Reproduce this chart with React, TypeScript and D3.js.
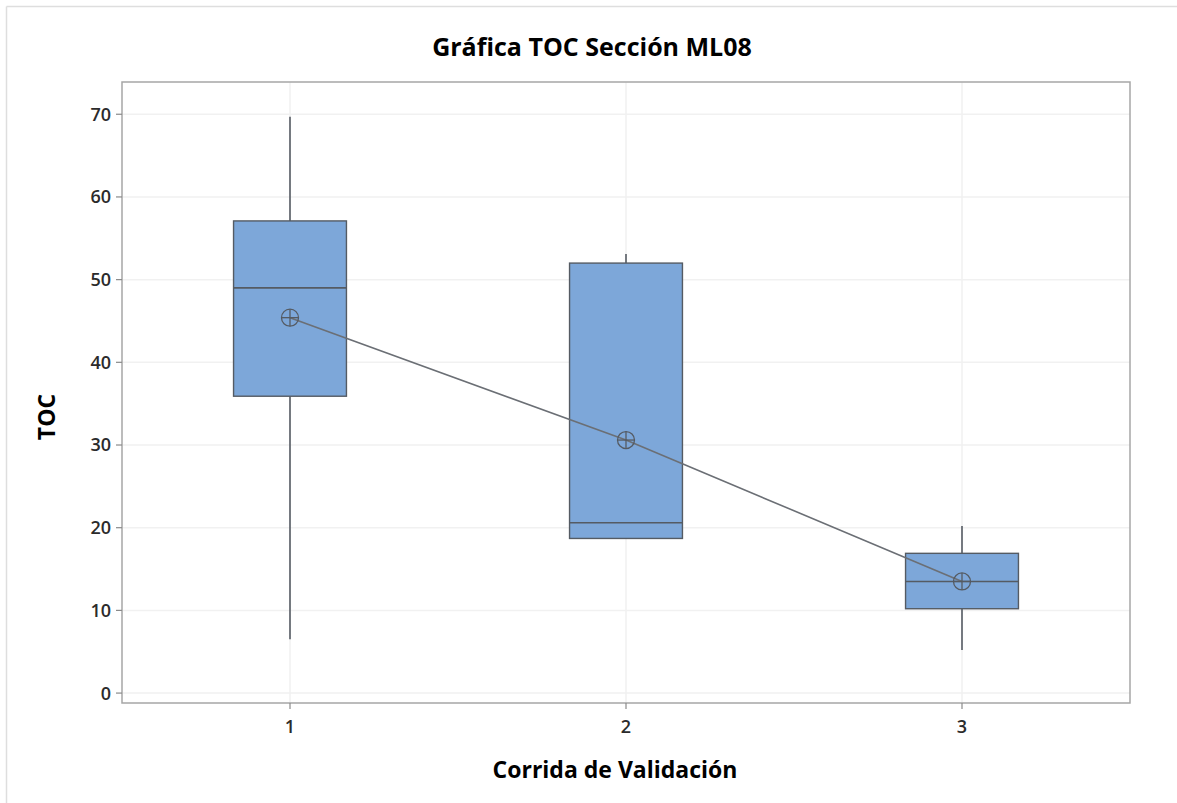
import React from "react";
import * as d3 from "d3";

// Validation runs and their TOC box-plot summaries
const runs = ["1", "2", "3"];
const whiskerLow = [6.5, 18.7, 5.2];
const q1 = [35.9, 18.7, 10.2];
const median = [49.0, 20.6, 13.5];
const q3 = [57.1, 52.0, 16.9];
const whiskerHigh = [69.7, 53.1, 20.2];
const means = [45.4, 30.6, 13.5];
const yTicks = [0, 10, 20, 30, 40, 50, 60, 70];

const W = 1177;
const H = 803;
const plot = { left: 122, right: 1130, top: 82, bottom: 703 };
const FONT = "'Open Sans', 'DejaVu Sans', sans-serif";

export default function App() {
  const x = d3
    .scaleLinear()
    .domain([0.5, 3.5])
    .range([plot.left, plot.right]);
  const y = d3
    .scaleLinear()
    .domain([-1.2, 73.9])
    .range([plot.bottom, plot.top]);

  const boxHalf = x(1.168) - x(1);
  const capR = 8.5;

  const meanLine = d3
    .line<number>()
    .x((_, i) => x(i + 1))
    .y((d) => y(d))(means);

  return (
    <div style={{ position: "absolute", left: 0, top: 0 }}>
      <svg width={W} height={H} style={{ display: "block", background: "#fff" }}>
        {/* outer border: top and left edges */}
        <line x1={6.5} x2={W} y1={6.5} y2={6.5} stroke="#dedede" strokeWidth={1.5} />
        <line x1={6.5} x2={6.5} y1={6.5} y2={H} stroke="#dedede" strokeWidth={1.5} />

        {/* grid */}
        {yTicks.map((t) => (
          <line key={"gy" + t} x1={plot.left} x2={plot.right} y1={y(t)} y2={y(t)} stroke="#f1f1f1" strokeWidth={1.5} />
        ))}
        {runs.map((r, i) => (
          <line key={"gx" + r} x1={x(i + 1)} x2={x(i + 1)} y1={plot.top} y2={plot.bottom} stroke="#f1f1f1" strokeWidth={1.5} />
        ))}

        {/* frame */}
        <rect x={plot.left} y={plot.top} width={plot.right - plot.left} height={plot.bottom - plot.top} fill="none" stroke="#a6a6a6" strokeWidth={1.5} />

        {/* y axis */}
        {yTicks.map((t) => (
          <g key={"yt" + t}>
            <line x1={plot.left - 6} x2={plot.left} y1={y(t)} y2={y(t)} stroke="#8a8a8a" strokeWidth={1.2} />
            <text x={plot.left - 11} y={y(t)} dy="0.36em" textAnchor="end" fontFamily={FONT} fontWeight={600} fontSize={18} fill="#2b2b2b">
              {t}
            </text>
          </g>
        ))}

        {/* x axis */}
        {runs.map((r, i) => (
          <g key={"xt" + r}>
            <line x1={x(i + 1)} x2={x(i + 1)} y1={plot.bottom} y2={plot.bottom + 6} stroke="#8a8a8a" strokeWidth={1.2} />
            <text x={x(i + 1)} y={plot.bottom + 30} textAnchor="middle" fontFamily={FONT} fontWeight={600} fontSize={18} fill="#2b2b2b">
              {r}
            </text>
          </g>
        ))}

        {/* boxes */}
        {runs.map((r, i) => {
          const cx = x(i + 1);
          return (
            <g key={"box" + r}>
              <line x1={cx} x2={cx} y1={y(whiskerHigh[i])} y2={y(q3[i])} stroke="#555b63" strokeWidth={1.6} />
              <line x1={cx} x2={cx} y1={y(q1[i])} y2={y(whiskerLow[i])} stroke="#555b63" strokeWidth={1.6} />
              <rect x={cx - boxHalf} y={y(q3[i])} width={boxHalf * 2} height={y(q1[i]) - y(q3[i])} fill="#7da7d9" stroke="#555b63" strokeWidth={1.4} />
              <line x1={cx - boxHalf} x2={cx + boxHalf} y1={y(median[i])} y2={y(median[i])} stroke="#555b63" strokeWidth={1.6} />
            </g>
          );
        })}

        {/* mean connect line and symbols */}
        <path d={meanLine ?? ""} fill="none" stroke="#6b6f75" strokeWidth={1.6} />
        {means.map((m, i) => {
          const cx = x(i + 1);
          const cy = y(m);
          return (
            <g key={"mean" + i} stroke="#555b63" strokeWidth={1.3} fill="none">
              <circle cx={cx} cy={cy} r={capR} />
              <line x1={cx - capR} x2={cx + capR} y1={cy} y2={cy} />
              <line x1={cx} x2={cx} y1={cy - capR} y2={cy + capR} />
            </g>
          );
        })}

        {/* titles */}
        <text x={592} y={56} textAnchor="middle" fontFamily={FONT} fontWeight={700} fontSize={25} fill="#000">
          Gráfica TOC Sección ML08
        </text>
        <text x={615} y={778} textAnchor="middle" fontFamily={FONT} fontWeight={700} fontSize={23} fill="#000">
          Corrida de Validación
        </text>
        <text transform={`translate(55,417) rotate(-90)`} textAnchor="middle" fontFamily={FONT} fontWeight={700} fontSize={23} fill="#000">
          TOC
        </text>
      </svg>
    </div>
  );
}
